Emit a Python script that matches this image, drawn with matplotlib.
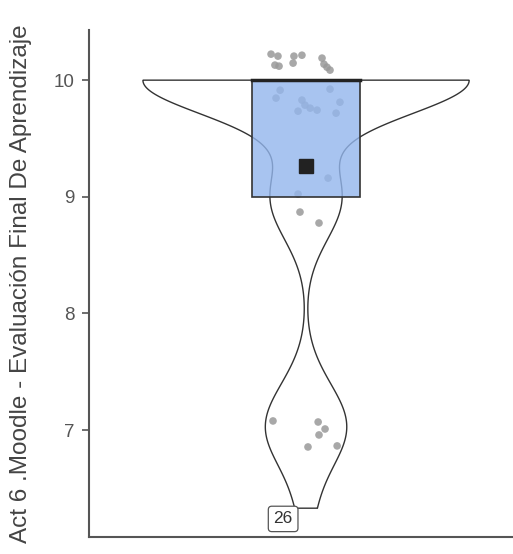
import numpy as np
import matplotlib
matplotlib.use("Agg")
import matplotlib.pyplot as plt

plt.rcParams['font.family'] = ['Liberation Sans', 'DejaVu Sans']

# Scores used for the violin density
scores = [6.33,
          6.8, 6.9, 7.0, 7.0, 7.1, 7.2, 7.4,
          8.7, 8.85, 9.0, 9.0, 9.1, 9.2,
          ] + [10.0] * 24
bandwidth = 0.3

# Box plot summary
q1, median, q3 = 9.0, 10.0, 10.0
mean_score = 9.26

# Jittered points as drawn (x offset from centre, y value)
jitter_x = [-0.162, -0.130, -0.144, -0.125, -0.056, -0.019, -0.060, 0.074, 0.083, 0.097, 0.111,
            -0.120, -0.139, -0.019, -0.005, 0.019, 0.051, -0.037, 0.111, 0.157, 0.139, 0.102, -0.037,
            -0.028, 0.060,
            -0.153, 0.056, 0.088, 0.060, 0.009, 0.144]
jitter_y = [10.223, 10.206, 10.129, 10.120, 10.206, 10.214, 10.146, 10.189, 10.137, 10.111, 10.086,
            9.914, 9.846, 9.829, 9.786, 9.760, 9.743, 9.734, 9.923, 9.811, 9.717, 9.160, 9.023,
            8.869, 8.775,
            7.078, 7.069, 7.009, 6.958, 6.855, 6.864]

outlier_label = "26"
outlier_pos = (-0.106, 6.238)

y_ticks = [7, 8, 9, 10]
y_label = "Act 6 .Moodle - Evaluación Final De Aprendizaje"

# Gaussian kde, trimmed to the data range
data = np.array(scores)
grid = np.linspace(data.min(), data.max(), 512)
dens = np.exp(-0.5 * ((grid[:, None] - data[None, :]) / bandwidth) ** 2).sum(axis=1)
half = dens / dens.max() * 0.755

fig = plt.figure(figsize=(5.13, 5.54), dpi=100)
ax = fig.add_axes([88.5 / 513, 17 / 554, 1 - 88.5 / 513, 507 / 554])

# violin
vx = np.concatenate([-half, half[::-1]])
vy = np.concatenate([grid, grid[::-1]])
ax.fill(vx, vy, facecolor='white', edgecolor='#333333', linewidth=1.0, zorder=1)

# points
ax.scatter(jitter_x, jitter_y, s=30, color='#999999', alpha=0.85, edgecolors='none', zorder=2)

# box
bw = 0.25
ax.add_patch(plt.Rectangle((-bw, q1), 2 * bw, q3 - q1, facecolor='#93b6ed', alpha=0.8,
                           edgecolor='none', zorder=3))
ax.add_patch(plt.Rectangle((-bw, q1), 2 * bw, q3 - q1, facecolor='none',
                           edgecolor='#333333', linewidth=1.2, zorder=4))
ax.plot([-bw, bw], [median, median], color='#222222', linewidth=2.5, zorder=5)

# mean
ax.plot([0], [mean_score], marker='s', markersize=9.5, color='#222222', zorder=6)

# outlier label
ax.text(outlier_pos[0], outlier_pos[1], outlier_label, ha='center', va='center', fontsize=12.5,
        color='#333333', zorder=7,
        bbox=dict(boxstyle='round,pad=0.3,rounding_size=0.2', facecolor='white',
                  edgecolor='#555555', linewidth=0.9))

ax.set_xlim(-1.007, 0.958)
ax.set_ylim(6.083, 10.43)
ax.set_yticks(y_ticks)
ax.set_yticklabels([str(t) for t in y_ticks], fontsize=13.5, color='#555555')
ax.set_xticks([])
ax.tick_params(axis='y', length=5, width=1.2, color='#555555', pad=5)
ax.set_ylabel(y_label, fontsize=17.5, color='#444444')
ax.yaxis.set_label_coords(-0.132, 0.5)

for side in ['top', 'right']:
    ax.spines[side].set_visible(False)
for side in ['left', 'bottom']:
    ax.spines[side].set_color('#555555')
    ax.spines[side].set_linewidth(1.5)

fig.savefig("out.png", dpi=100)
